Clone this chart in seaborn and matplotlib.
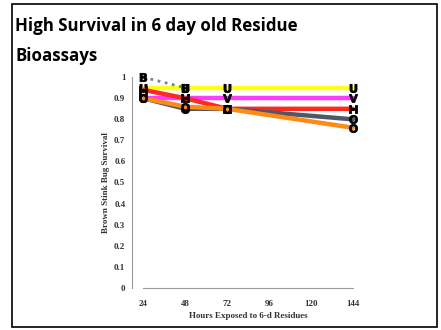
import numpy as np
import pandas as pd
import matplotlib
matplotlib.use("Agg")
import matplotlib.pyplot as plt
import seaborn as sns
from matplotlib.patches import Rectangle

# --- data ---
hours = [24, 48, 72, 144]
yellow = [0.95, 0.95, 0.95, 0.95]
magenta = [0.90, 0.90, 0.90, 0.90]
red = [0.94, 0.90, 0.85, 0.85]
slate = [0.90, 0.85, 0.85, 0.80]
orange = [0.90, 0.86, 0.85, 0.76]
dotted_hours = [24, 48]
dotted = [1.00, 0.95]

series = [
    ("yellow", hours, yellow, "#ffff1a", "U", "-"),
    ("magenta", hours, magenta, "#ff3cff", "V", "-"),
    ("red", hours, red, "#ff2a1f", "H", "-"),
    ("slate", hours, slate, "#4f5866", "O", "-"),
    ("orange", hours, orange, "#ff8a14", "O", "-"),
    ("dotted", dotted_hours, dotted, "#6f82a8", "B", ":"),
]

xticks = [24, 48, 72, 96, 120, 144]
yticks = [0, 0.1, 0.2, 0.3, 0.4, 0.5, 0.6, 0.7, 0.8, 0.9, 1]
ytick_labels = ["0", "0.1", "0.2", "0.3", "0.4", "0.5", "0.6", "0.7", "0.8", "0.9", "1"]

sns.set_style("white")
plt.rcParams["font.family"] = ["Liberation Serif", "DejaVu Serif"]
plt.rcParams["font.weight"] = "bold"
plt.rcParams["font.size"] = 6.5

fig = plt.figure(figsize=(4.41, 3.30), dpi=100)
ax = fig.add_axes([0.325, 0.128, 0.475, 0.638])

for name, xs, ys, color, letter, ls in series:
    df = pd.DataFrame({"hours": xs, "survival": ys})
    sns.lineplot(data=df, x="hours", y="survival", ax=ax, color=color,
                 linewidth=3.2 if ls == "-" else 2.0, linestyle=ls,
                 marker=f"$\\mathbf{{{letter}}}$", markersize=6,
                 markeredgecolor="black", markerfacecolor="black",
                 markeredgewidth=0.6, clip_on=False, zorder=3)

sns.despine(ax=ax)
ax.spines["left"].set_position(("outward", 8))
for s in ("left", "bottom"):
    ax.spines[s].set_color("#9a9a9a")
    ax.spines[s].set_linewidth(0.8)

ax.set_xlim(24, 144)
ax.set_ylim(0, 1)
ax.set_xticks(xticks)
ax.set_xticklabels([str(t) for t in xticks])
ax.set_yticks(yticks)
ax.set_yticklabels(ytick_labels)
ax.tick_params(axis="both", length=0, labelsize=6.5, labelcolor="#333333")
ax.tick_params(axis="x", pad=9)
ax.tick_params(axis="y", pad=5)

ax.set_xlabel("Hours Exposed to 6-d Residues", fontsize=6.5, fontweight="bold",
              color="#333333", labelpad=3)
ax.set_ylabel("Brown Stink Bug Survival", fontsize=6.5, fontweight="bold",
              color="#333333", labelpad=3)

title_font = ["Open Sans", "DejaVu Sans"]
fig.text(0.035, 0.905, "High Survival in 6 day old Residue", fontsize=12.2,
         fontweight="bold", family=title_font, color="black")
fig.text(0.035, 0.815, "Bioassays", fontsize=12.2,
         fontweight="bold", family=title_font, color="black")

# slide frame
fig.add_artist(Rectangle((0.028, 0.008), 0.964, 0.98, transform=fig.transFigure,
                         fill=False, edgecolor="black", linewidth=1.2))

fig.savefig("out.png", dpi=100)
